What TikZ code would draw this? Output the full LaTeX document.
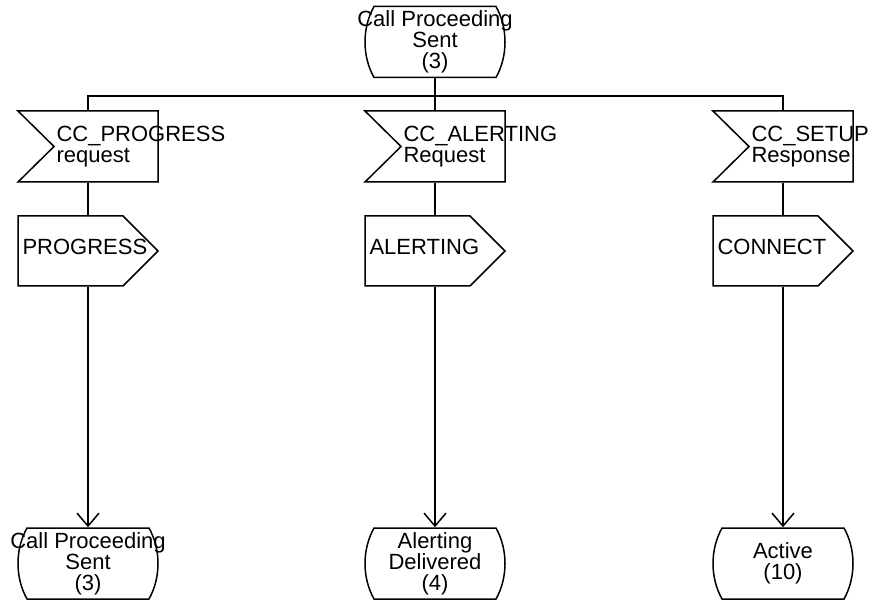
\documentclass[tikz,border=0pt]{standalone}
\usepackage{fontspec}
\setmainfont{Liberation Sans}
\usetikzlibrary{arrows.meta}

\tikzset{
  box/.style={minimum width=140pt, minimum height=71pt, inner sep=0pt},
  state/.style={box, align=center},
  intext/.style={anchor=west, xshift=38.5pt, align=left, inner sep=0pt},
  outtext/.style={anchor=west, xshift=4.5pt, yshift=4pt, inner sep=0pt},
  arrow/.style={-{Straight Barb[length=13pt, width=22pt]}}
}

\begin{document}
\begin{tikzpicture}[x=1pt, y=-1pt, line width=1.5pt, font=\fontsize{22}{21}\selectfont]
\useasboundingbox (0,0) rectangle (872,601);

\node[state] (top) at (435,42) {Call Proceeding\\Sent\\(3)};

\node[box, label={[intext]west:{CC\_PROGRESS\\request}}] (in1) at (88,146.5) {};
\node[box, label={[intext]west:{CC\_ALERTING\\Request}}] (in2) at (435,146.5) {};
\node[box, label={[intext]west:{CC\_SETUP\\Response}}] (in3) at (783,146.5) {};

\node[box, label={[outtext]west:PROGRESS}] (out1) at (88,251) {};
\node[box, label={[outtext]west:ALERTING}] (out2) at (435,251) {};
\node[box, label={[outtext]west:CONNECT}] (out3) at (783,251) {};

\node[state] (st1) at (88,563.5) {Call Proceeding\\Sent\\(3)};
\node[state] (st2) at (435,563.5) {Alerting\\Delivered\\(4)};
\node[state] (st3) at (783,563.5) {Active\\(10)};

\coordinate (bus) at (435,96);

% outlines
\foreach \n in {top,st1,st2,st3}
  \draw[shift={(\n.center)}] (-61,-35.5) -- (61,-35.5) .. controls (73,-14) and (73,14) .. (61,35.5)
    -- (-61,35.5) .. controls (-73,14) and (-73,-14) .. (-61,-35.5) -- cycle;
\foreach \n in {in1,in2,in3}
  \draw[shift={(\n.center)}] (-70,-35.5) -- (70,-35.5) -- (70,35.5) -- (-70,35.5) -- (-34,0) -- cycle;
\foreach \n in {out1,out2,out3}
  \draw[shift={(\n.center)}] (-70,-35) -- (35,-35) -- (70,0) -- (35,35) -- (-70,35) -- cycle;

\draw (top) -- (in2);
\draw (in1) |- (bus) -| (in3);

\draw (in1) -- (out1);
\draw (in2) -- (out2);
\draw (in3) -- (out3);

\draw[arrow] (out1) -- (st1);
\draw[arrow] (out2) -- (st2);
\draw[arrow] (out3) -- (st3);

\end{tikzpicture}
\end{document}
